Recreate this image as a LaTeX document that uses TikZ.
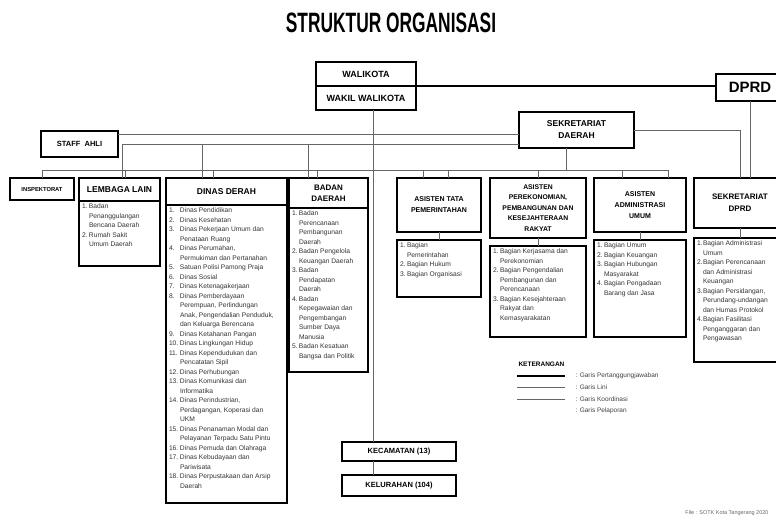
\documentclass[tikz,border=0pt]{standalone}
\usepackage{fontspec}
\setmainfont{Liberation Sans}
\usepackage{graphicx}
\usetikzlibrary{calc}
\newlength{\itmw}
% numbered item with hanging indent
\newcommand{\itm}[2]{\par\hangindent=\itmw\hangafter=1\noindent\makebox[\itmw][l]{#1}#2}
% top aligned list body: width, height, indent, items
\newcommand{\bx}[4]{\parbox[t][#2pt][t]{#1pt}{\raggedright\setlength{\parskip}{0pt}\setlength{\itmw}{#3pt}#4\par\vfill}}

\begin{document}
\begin{tikzpicture}[x=1pt, y=-1pt,
  box/.style={draw, line width=1.5pt, outer sep=0pt, inner sep=1pt, align=center,
    anchor=north west, font=\fontsize{8.5}{10.5}\selectfont\bfseries},
  lst/.style={draw, line width=1.5pt, outer sep=0pt, inner sep=3pt,
    anchor=north west, font=\fontsize{6.7}{9.5}\selectfont, text=black!80},
  garis/.style={line width=0.7pt, black!60},
  tebal/.style={line width=2.6pt}]
\useasboundingbox (0,0) rectangle (776,520);
% Title
\node (title) at (391,23)
  {\scalebox{0.62}[1]{\fontsize{28}{30}\selectfont\bfseries STRUKTUR ORGANISASI}};
% Top level
\node[box, minimum width=100pt, minimum height=24pt, font=\fontsize{9}{10}\selectfont\bfseries]
  (wali) at (316,62) {WALIKOTA};
\node[box, minimum width=100pt, minimum height=24pt, font=\fontsize{9}{10}\selectfont\bfseries]
  (wakil) at (wali.south west) {WAKIL WALIKOTA};
\node[box, minimum width=68pt, minimum height=27pt, font=\fontsize{15}{16}\selectfont\bfseries]
  (dprd) at (716,74) {DPRD};
\node[box, minimum width=115pt, minimum height=36pt, font=\fontsize{8.5}{12}\selectfont\bfseries]
  (sekda) at (519,112) {SEKRETARIAT\\DAERAH};
\node[box, minimum width=77pt, minimum height=26pt, font=\fontsize{7.5}{9}\selectfont\bfseries]
  (staf) at (41,131) {STAFF\ \ AHLI};
% Row of units: headers
\node[box, minimum width=64pt, minimum height=22pt, font=\fontsize{5.8}{7}\selectfont\bfseries]
  (insp) at (10,178) {INSPEKTORAT};
\node[box, minimum width=81pt, minimum height=23pt] (lembH) at (79,178) {LEMBAGA LAIN};
\node[box, minimum width=121pt, minimum height=27pt] (dinasH) at (166,178) {DINAS DERAH};
\node[box, minimum width=79pt, minimum height=30pt, font=\fontsize{8}{11}\selectfont\bfseries]
  (badanH) at (289,178) {BADAN\\DAERAH};
\node[box, minimum width=84pt, minimum height=54pt, font=\fontsize{7}{11}\selectfont\bfseries]
  (as1H) at (397,178) {ASISTEN TATA\\PEMERINTAHAN};
\node[box, minimum width=96pt, minimum height=60pt, font=\fontsize{6.8}{10.4}\selectfont\bfseries]
  (as2H) at (490,178) {ASISTEN\\PEREKONOMIAN,\\PEMBANGUNAN DAN\\KESEJAHTERAAN\\RAKYAT};
\node[box, minimum width=92pt, minimum height=54pt, font=\fontsize{7}{11}\selectfont\bfseries]
  (as3H) at (594,178) {ASISTEN\\ADMINISTRASI\\UMUM};
\node[box, minimum width=92pt, minimum height=50pt, font=\fontsize{8}{12}\selectfont\bfseries]
  (sdH) at (694,178) {SEKRETARIAT\\DPRD};
% Row of units: lists
\node[lst] (lembB) at (lembH.south west) {\bx{75}{59}{7}{%
  \itm{1.}{Badan\newline Penanggulangan\newline Bencana Daerah}%
  \itm{2.}{Rumah Sakit\newline Umum Daerah}}};
\node[lst] (dinasB) at (dinasH.south west) {\bx{115}{292}{11}{%
  \itm{1.}{Dinas Pendidikan}\itm{2.}{Dinas Kesehatan}%
  \itm{3.}{Dinas Pekerjaan Umum dan\newline Penataan Ruang}%
  \itm{4.}{Dinas Perumahan,\newline Permukiman dan Pertanahan}%
  \itm{5.}{Satuan Polisi Pamong Praja}\itm{6.}{Dinas Sosial}%
  \itm{7.}{Dinas Ketenagakerjaan}%
  \itm{8.}{Dinas Pemberdayaan\newline Perempuan, Perlindungan\newline Anak, Pengendalian Penduduk,\newline dan Keluarga Berencana}%
  \itm{9.}{Dinas Ketahanan Pangan}\itm{10.}{Dinas Lingkungan Hidup}%
  \itm{11.}{Dinas Kependudukan dan\newline Pencatatan Sipil}%
  \itm{12.}{Dinas Perhubungan}%
  \itm{13.}{Dinas Komunikasi dan\newline Informatika}%
  \itm{14.}{Dinas Perindustrian,\newline Perdagangan, Koperasi dan\newline UKM}%
  \itm{15.}{Dinas Penanaman Modal dan\newline Pelayanan Terpadu Satu Pintu}%
  \itm{16.}{Dinas Pemuda dan Olahraga}%
  \itm{17.}{Dinas Kebudayaan dan\newline Pariwisata}%
  \itm{18.}{Dinas Perpustakaan dan Arsip\newline Daerah}}};
\node[lst] (badanB) at (badanH.south west) {\bx{73}{158}{7}{%
  \itm{1.}{Badan\newline Perencanaan\newline Pembangunan\newline Daerah}%
  \itm{2.}{Badan Pengelola\newline Keuangan Daerah}%
  \itm{3.}{Badan\newline Pendapatan\newline Daerah}%
  \itm{4.}{Badan\newline Kepegawaian dan\newline Pengembangan\newline Sumber Daya\newline Manusia}%
  \itm{5.}{Badan Kesatuan\newline Bangsa dan Politik}}};
\node[lst] (as1B) at (397,240) {\bx{78}{51}{7}{%
  \itm{1.}{Bagian\newline Pemerintahan}\itm{2.}{Bagian Hukum}%
  \itm{3.}{Bagian Organisasi}}};
\node[lst] (as2B) at (490,246) {\bx{90}{85}{7}{%
  \itm{1.}{Bagian Kerjasama dan\newline Perekonomian}%
  \itm{2.}{Bagian Pengendalian\newline Pembangunan dan\newline Perencanaan}%
  \itm{3.}{Bagian Kesejahteraan\newline Rakyat dan\newline Kemasyarakatan}}};
\node[lst] (as3B) at (594,240) {\bx{86}{91}{7}{%
  \itm{1.}{Bagian Umum}\itm{2.}{Bagian Keuangan}%
  \itm{3.}{Bagian Hubungan\newline Masyarakat}%
  \itm{4.}{Bagian Pengadaan\newline Barang dan Jasa}}};
\node[lst] (sdB) at (694,238) {\bx{86}{118}{6}{%
  \itm{1.}{Bagian Administrasi\newline Umum}%
  \itm{2.}{Bagian Perencanaan\newline dan Administrasi\newline Keuangan}%
  \itm{3.}{Bagian Persidangan,\newline Perundang-undangan\newline dan Humas Protokol}%
  \itm{4.}{Bagian Fasilitasi\newline Penganggaran dan\newline Pengawasan}}};
% Kecamatan / Kelurahan
\node[box, minimum width=114pt, minimum height=19pt, font=\fontsize{7.5}{9}\selectfont\bfseries]
  (kec) at (342,442) {KECAMATAN (13)};
\node[box, minimum width=114pt, minimum height=21pt, font=\fontsize{7.5}{9}\selectfont\bfseries]
  (kel) at (342,475) {KELURAHAN (104)};
% Rails
\coordinate (spine) at (373,0);
\coordinate (r1) at (0,134);
\coordinate (r2) at (0,144);
\coordinate (r3) at (0,170);
\coordinate (sdL) at (740,0);
\coordinate (r3e) at ($(as3H.north west)+(74,0)$);
% Connectors
\draw[tebal] (wakil.north east) -- (wakil.north east -| dprd.west);
\draw[garis] (wakil.south -| spine) -- (kec.north -| spine);
\draw[garis] (kec.south -| spine) -- (kel.north -| spine);
\draw[garis] (staf.east |- r1) -- (sekda.west |- r1);
\draw[garis] (sekda.west |- r2) -| ($(lembH.north west)+(43,0)$);
\foreach \b/\dx in {dinasH/36, badanH/19}
  \draw[garis] ($(\b.north west)+(\dx,0)$) coordinate (t) -- (t |- r2);
\draw[garis] (insp.north) |- (r3e |- r3) -- (r3e);
\foreach \b/\dx in {lembH/46, dinasH/47, badanH/28, as1H/26, as1H/51, as2H/48, as3H/28}
  \draw[garis] ($(\b.north west)+(\dx,0)$) coordinate (t) -- (t |- r3);
\draw[garis] ($(sekda.south west)+(47,0)$) coordinate (t) -- (t |- r3);
\draw[garis] (sekda.east) -| (sdL |- sdH.north);
\draw[garis] (dprd.south) -- (dprd.south |- sdH.north);
\foreach \b in {as1, as2, as3, sd}
  \draw[garis] (\b H.south) -- (\b B.north);
% Legend
\node[anchor=west, font=\fontsize{6.5}{8}\selectfont\bfseries] (ket) at (515,364) {KETERANGAN};
\node[anchor=west, font=\fontsize{6.5}{8}\selectfont, text=black!75] (lg1) at (572,376) {: Garis Pertanggungjawaban};
\node[anchor=west, font=\fontsize{6.5}{8}\selectfont, text=black!75] (lg2) at (572,387.5) {: Garis Lini};
\node[anchor=west, font=\fontsize{6.5}{8}\selectfont, text=black!75] (lg3) at (572,399) {: Garis Koordinasi};
\node[anchor=west, font=\fontsize{6.5}{8}\selectfont, text=black!75] (lg4) at (572,410.5) {: Garis Pelaporan};
\draw[tebal] ($(ket.west |- lg1.west)+(2,0)$) -- ++(48,0);
\draw[garis, line width=1pt] ($(ket.west |- lg2.west)+(2,0)$) -- ++(48,0);
\draw[garis, line width=1pt] ($(ket.west |- lg3.west)+(2,0)$) -- ++(48,0);
% Footer
\node[anchor=east, font=\fontsize{5.5}{6}\selectfont, text=black!60] (foot) at (772,513)
  {File : SOTK Kota Tangerang 2020};
\end{tikzpicture}
\end{document}
